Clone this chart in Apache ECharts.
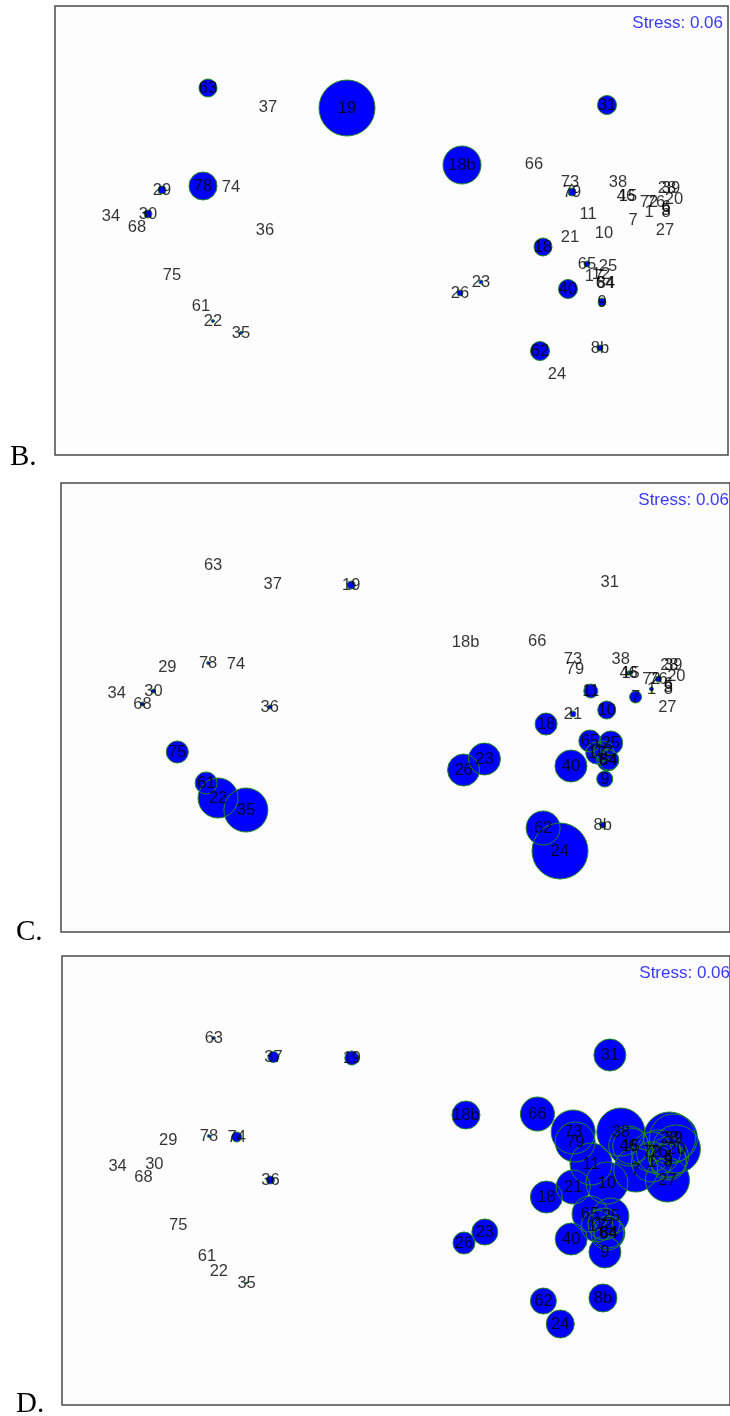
<!DOCTYPE html>
<html>
<head>
<meta charset="utf-8">
<script src="https://cdn.jsdelivr.net/npm/echarts@6/dist/echarts.min.js"></script>
<style>
  html, body { margin: 0; padding: 0; background: #ffffff; }
  #chart { width: 730px; height: 1416px; }
</style>
</head>
<body>
<div id="chart"></div>
<script>
// MDS ordination of the sampling sites (two dimensions), shared by all panels
const sampleLabels = ['63','37','19','29','78','74','34','30','68','36','75','61','22','35',
  '31','18b','66','73','79','38','46','15','28','39','20','72','76','6','5','8','1','7','27',
  '11','10','21','18','65','25','17','12','64','84','40','9','23','26','62','24','8b'];
const dim1 = [-1.87,-1.27,-0.48,-2.33,-1.92,-1.64,-2.84,-2.47,-2.58,-1.30,-2.23,-1.94,-1.82,-1.54,
  2.12,0.67,1.39,1.75,1.77,2.23,2.31,2.33,2.72,2.76,2.79,2.54,2.61,2.71,2.71,2.71,2.54,2.38,2.70,
  1.93,2.09,1.75,1.48,1.92,2.13,1.99,2.06,2.10,2.11,1.73,2.07,0.86,0.65,1.45,1.62,2.05];
const dim2 = [1.48,1.29,1.28,0.46,0.50,0.49,0.20,0.22,0.09,0.06,-0.39,-0.70,-0.85,-0.97,
  1.31,0.71,0.72,0.54,0.44,0.54,0.40,0.40,0.48,0.48,0.37,0.34,0.34,0.29,0.26,0.24,0.24,0.16,0.06,
  0.22,0.03,-0.01,-0.11,-0.28,-0.30,-0.40,-0.38,-0.47,-0.47,-0.53,-0.66,-0.46,-0.57,-1.15,-1.38,-1.12];

// Bubble radius (abundance) per site for each taxon panel
const abundB = [9,0,28,4,14,0,0,4,0,0,0,0,1.5,1.5,
  9.5,19,0,0,4,0,0,0,0,0,0,0,0,0,0,0,0,0,0,
  0,0,0,9,3,0,0,0,0,0,9.5,4,2,3,9.5,0,3];
const abundC = [0,0,4,0,1.5,0,0,2,2,2,11,11,20,22,
  0,0,0,0,0,0,2,2,0,0,0,0,3,0,0,0,2,6,0,
  7,9,3,11,11,12,11,10,11,10,16,8,16,16,17,28,3];
const abundD = [1.5,5.5,7,0,1.5,5,0,0,0,4,0,0,0,1,
  16,14,17,22,20,24,20,18,26,24,24,20,22,20,18,18,20,22,22,
  21,21,17,16,18,18,16,16,17,15,16,16,13,11,13,14,14];

const panelLetters = ['B.', 'C.', 'D.'];
const stressText = 'Stress: 0.06';
const xRange = [-3.40, 3.33];
const yRange = [-2.19, 2.30];

const panels = [
  { abund: abundB, left: 55, top: 6,   letterX: 10, letterY: 457 },
  { abund: abundC, left: 61, top: 483, letterX: 16, letterY: 932 },
  { abund: abundD, left: 62, top: 956, letterX: 16, letterY: 1404 }
];
const gridW = 673, gridH = 449;

const grid = [], xAxis = [], yAxis = [], series = [], graphic = [];

panels.forEach((p, i) => {
  grid.push({
    left: p.left, top: p.top, width: gridW, height: gridH,
    show: true, backgroundColor: '#fdfdfd', borderColor: '#4a4a4a', borderWidth: 1.5
  });
  xAxis.push({ gridIndex: i, type: 'value', min: xRange[0], max: xRange[1], show: false });
  yAxis.push({ gridIndex: i, type: 'value', min: yRange[0], max: yRange[1], show: false });

  const bubbles = [];
  sampleLabels.forEach((lab, k) => {
    if (p.abund[k] > 0) bubbles.push([dim1[k], dim2[k], p.abund[k]]);
  });
  const points = sampleLabels.map((lab, k) => ({ name: lab, value: [dim1[k], dim2[k]] }));

  // filled discs
  series.push({
    type: 'scatter', xAxisIndex: i, yAxisIndex: i, data: bubbles,
    symbol: 'circle', symbolSize: v => v[2] * 2,
    itemStyle: { color: '#0000ff', opacity: 1 },
    silent: true, z: 2
  });
  // green outlines drawn over every disc
  series.push({
    type: 'scatter', xAxisIndex: i, yAxisIndex: i, data: bubbles,
    symbol: 'circle', symbolSize: v => v[2] * 2,
    itemStyle: { color: 'rgba(0,0,0,0)', borderColor: '#1d8a1d', borderWidth: 1, opacity: 1 },
    silent: true, z: 3
  });
  // site labels
  series.push({
    type: 'scatter', xAxisIndex: i, yAxisIndex: i, data: points,
    symbol: 'circle', symbolSize: 1,
    itemStyle: { color: 'rgba(0,0,0,0)' },
    label: {
      show: true, position: 'inside', formatter: '{b}',
      color: '#000000', fontSize: 16.5, fontFamily: 'Liberation Sans'
    },
    labelLayout: { hideOverlap: false },
    silent: true, z: 4
  });

  graphic.push({
    type: 'text', left: null, x: p.left + 668, y: p.top + 17, z: 10,
    style: {
      text: stressText, fill: '#3a3aff', font: '17px "Liberation Sans"',
      textAlign: 'right', textVerticalAlign: 'middle'
    }
  });
  graphic.push({
    type: 'text', x: p.letterX, y: p.letterY, z: 10,
    style: {
      text: panelLetters[i], fill: '#000000', font: '29px "Liberation Serif"',
      textAlign: 'left', textVerticalAlign: 'middle'
    }
  });
});

const chart = echarts.init(document.getElementById('chart'), null, { renderer: 'canvas' });
chart.setOption({
  animation: false,
  backgroundColor: '#ffffff',
  grid, xAxis, yAxis, series, graphic
});
</script>
</body>
</html>
